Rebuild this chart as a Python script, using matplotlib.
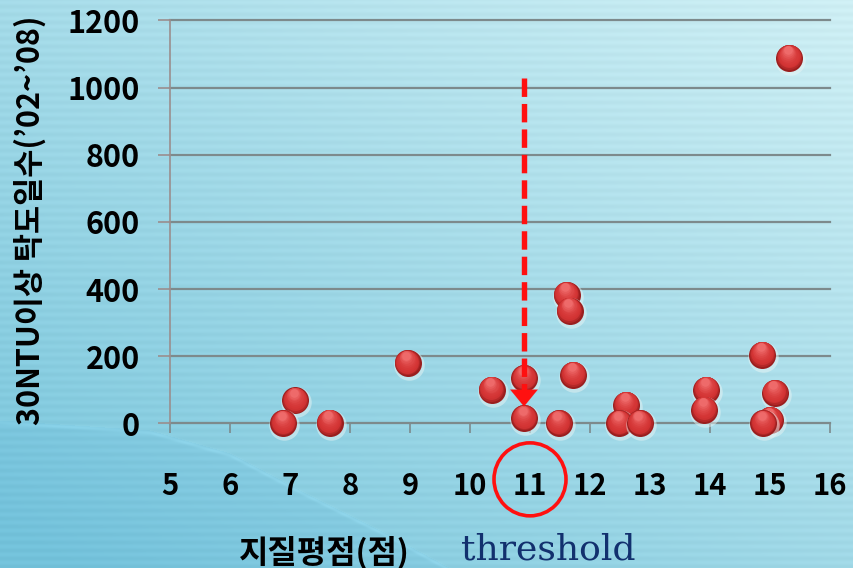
import numpy as np
import matplotlib
matplotlib.use("Agg")
import matplotlib.pyplot as plt
from matplotlib import transforms
from matplotlib.colors import to_rgb
from matplotlib.patches import Ellipse

# Geology score vs. number of days with turbidity >= 30 NTU ('02~'08)
geo_score = [6.89, 7.09, 7.66, 8.96, 10.36, 10.90, 10.90, 11.48, 11.61, 11.66, 11.72,
             12.49, 12.60, 12.83, 13.90, 13.94, 14.87, 14.89, 15.00, 15.08, 15.32]
turbid_days = [0, 68, 2, 179, 100, 134, 15, 0, 382, 336, 144,
               0, 55, 0, 40, 100, 204, 0, 10, 90, 1088]

x_ticks = list(range(5, 17))
y_ticks = list(range(0, 1201, 200))
threshold_x = 10.9
arrow_top, arrow_tip = 1030, 50

x_label = "지질평점(점)"
y_label = "30NTU이상 탁도일수(’02~’08)"
note = "threshold"

plt.rcParams["font.family"] = ["Noto Sans CJK KR", "DejaVu Sans"]

W, H = 854, 568
fig = plt.figure(figsize=(W / 100, H / 100), dpi=100)

# ---- background: soft cyan gradient with faint stripes and a wave ----
yy, xx = np.mgrid[0:H, 0:W].astype(float)
light = np.array(to_rgb("#cfeff4"))
dark = np.array(to_rgb("#7ac6dc"))
t = np.clip(0.55 * (yy / H) + 0.5 * (1 - xx / W), 0, 1) ** 1.0
img = light * (1 - t[..., None]) + dark * t[..., None]
img += (0.012 * np.sin(2 * np.pi * yy / 8))[..., None]
yc = np.interp(xx, [0, 150, 230, 300, 380, 450, 854], [420, 430, 453, 490, 530, 568, 760])
below = (yy > yc)[..., None]
img = np.where(below, img * np.array([0.95, 0.98, 0.995]), img)
img += (0.035 * np.exp(-((yy - yc - 2) / 2.0) ** 2))[..., None]
img = np.clip(img, 0, 1)

bg = fig.add_axes([0, 0, 1, 1], zorder=-10)
bg.imshow(img, aspect="auto", extent=[0, W, H, 0], interpolation="bilinear")
bg.set_xlim(0, W)
bg.set_ylim(H, 0)
bg.axis("off")

# ---- main axes ----
left, right = 170 / W, 830 / W
bottom, top = 1 - 423.3 / H, 1 - 20.5 / H
ax = fig.add_axes([left, bottom, right - left, top - bottom])
ax.set_facecolor("none")
ax.set_xlim(5, 16)
ax.set_ylim(0, 1200)

grid_c = "#7d8a8c"
for v in y_ticks:
    ax.axhline(v, color=grid_c, lw=1.6, zorder=1, clip_on=False)
for s in ["top", "right", "bottom"]:
    ax.spines[s].set_visible(False)
ax.spines["left"].set_color("#9a8e8e")
ax.spines["left"].set_linewidth(1.2)

ax.set_xticks(x_ticks)
ax.set_yticks(y_ticks)
ax.tick_params(axis="y", length=8.6, width=1.2, color="#9a8e8e", pad=13, labelsize=22)
ax.tick_params(axis="x", length=7.2, width=1.2, color=grid_c, pad=27, labelsize=21)
for lab in ax.get_xticklabels() + ax.get_yticklabels():
    lab.set_fontweight("black")
    lab.set_color("black")

# ---- 3D-looking spheres ----
d_pt = 27 * 72 / 100
dark_red = np.array(to_rgb("#9a1e1e"))
bright_red = np.array(to_rgb("#ee6a6a"))
mid_red = np.array(to_rgb("#d43434"))
order = np.argsort(turbid_days)[::-1]
z = 3
for i in order:
    px, py = geo_score[i], turbid_days[i]
    halo = ax.transData + transforms.ScaledTranslation(1 / 100, -2 / 100, fig.dpi_scale_trans)
    ax.scatter([px], [py], s=(d_pt + 2.5) ** 2, color="#e8f4f4", alpha=0.5,
               linewidths=0, transform=halo, zorder=z, clip_on=False)
    z += 1
    n = 10
    for k in range(n):
        f = 1 - 0.68 * k / (n - 1)
        u = k / (n - 1)
        if u < 0.25:
            col = dark_red + (mid_red - dark_red) * (u / 0.25)
        else:
            col = mid_red + (bright_red - mid_red) * ((u - 0.25) / 0.75) ** 1.8
        dy = (1 - f) * 27 * 0.42
        dx = -(1 - f) * 27 * 0.08
        tr = ax.transData + transforms.ScaledTranslation(dx / 100, dy / 100, fig.dpi_scale_trans)
        ax.scatter([px], [py], s=(d_pt * f) ** 2, color=col, linewidths=0,
                   transform=tr, zorder=z, clip_on=False)
        z += 1

# ---- threshold arrow ----
ax.plot([threshold_x, threshold_x], [arrow_top, arrow_tip + 42], color="#ff1010",
        lw=3.9, dashes=(3.4, 1.3), solid_capstyle="butt", dash_capstyle="butt",
        zorder=z + 1)
ax.annotate("", xy=(threshold_x, arrow_tip), xytext=(threshold_x, arrow_tip + 55),
            arrowprops=dict(arrowstyle="-|>,head_width=0.45,head_length=0.55",
                            mutation_scale=22, color="#ff1010", lw=0.1,
                            shrinkA=0, shrinkB=0),
            zorder=z + 2)

# circle around the 11 tick label
ax.add_patch(Ellipse((11.0, -167), width=72 / 60, height=73 / 0.3358, fill=False,
                     edgecolor="#ff1010", lw=2.6, clip_on=False, zorder=z + 3))

# ---- labels ----
fig.text(30 / W, 1 - 220 / H, y_label, rotation=90, ha="center", va="center",
         fontsize=22, fontweight="black", color="black")
fig.text(324 / W, 1 - 553 / H, x_label, ha="center", va="center",
         fontsize=23, fontweight="black", color="black")
fig.text(548 / W, 1 - 549 / H, note, ha="center", va="center",
         fontsize=26, family="DejaVu Serif", color="#12306e")

fig.savefig("out.png", dpi=100)
